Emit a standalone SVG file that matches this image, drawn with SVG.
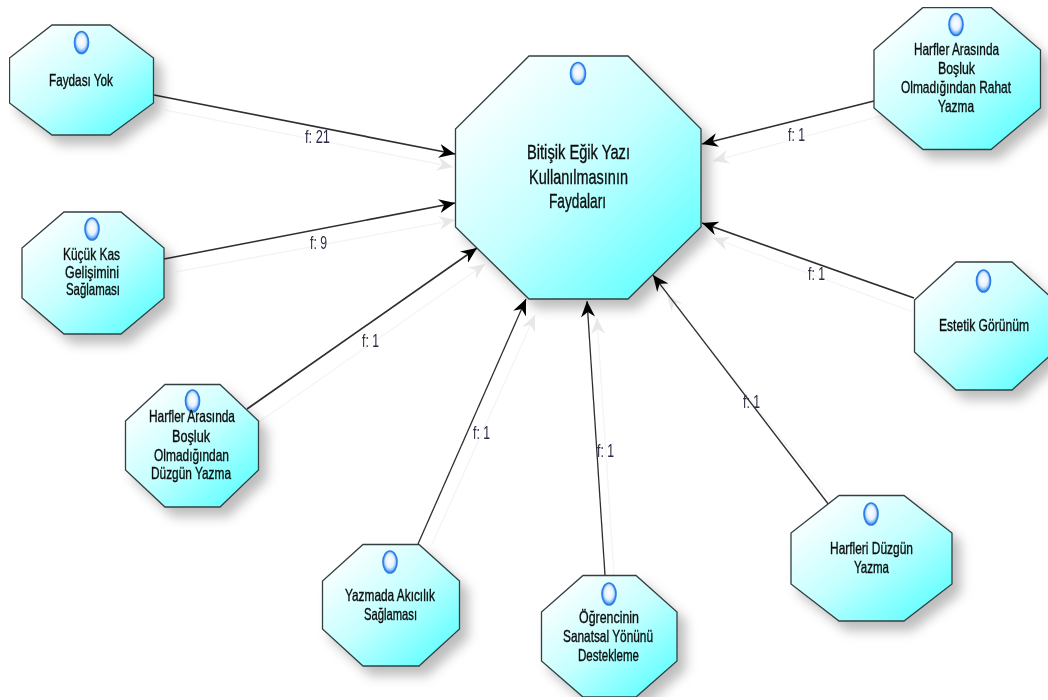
<svg xmlns="http://www.w3.org/2000/svg" width="1048" height="700" viewBox="0 0 1048 700">
<defs>
<linearGradient id="fill" x1="0.1" y1="0.08" x2="0.9" y2="0.92"><stop offset="0" stop-color="#ffffff"/><stop offset="0.5" stop-color="#c4ffff"/><stop offset="1" stop-color="#5effff"/></linearGradient>
<radialGradient id="dot" cx="0.5" cy="0.45" r="0.55"><stop offset="0" stop-color="#ffffff"/><stop offset="0.55" stop-color="#e4f1ff"/><stop offset="0.85" stop-color="#6aaef2"/><stop offset="1" stop-color="#1c68d8"/></radialGradient>
<filter id="shadow" x="-15%" y="-15%" width="135%" height="135%"><feDropShadow dx="8" dy="9" stdDeviation="6" flood-color="#000" flood-opacity="0.26"/></filter>
<filter id="soft" x="0" y="0" width="100%" height="100%"><feGaussianBlur stdDeviation="0.35"/></filter>
<marker id="arrow" viewBox="0 0 16 14" refX="16" refY="7" markerWidth="16" markerHeight="14" markerUnits="userSpaceOnUse" orient="auto"><path d="M16 7L0 0L5 7L0 14Z" fill="#000"/></marker>
<marker id="ghostarrow" viewBox="0 0 16 14" refX="16" refY="7" markerWidth="16" markerHeight="14" markerUnits="userSpaceOnUse" orient="auto"><path d="M16 7L0 0L5 7L0 14Z" fill="#e8e8e8"/></marker>
</defs>
<style>
.oct{fill:url(#fill);stroke:#334040;stroke-width:1.3;filter:url(#shadow)}
.dot{fill:url(#dot);stroke:#2f7fe6;stroke-width:1.7}
.t{font-family:"Liberation Sans",Arial,sans-serif;font-size:16.5px;fill:#0c0c0c;stroke:#0c0c0c;stroke-width:0.35px}
.big{font-size:21px}
.lab{font-family:"Liberation Sans",Arial,sans-serif;font-size:18px;fill:#2b2b45}
.line{stroke:#2e2e2e;fill:none;marker-end:url(#arrow)}
.heavy{stroke-width:1.7}
.thin{stroke-width:1.3}
.ghost{stroke:#f4f4f4;stroke-width:1.3;fill:none;marker-end:url(#ghostarrow)}
</style>
<rect width="1048" height="700" fill="#ffffff"/>
<g id="diagram" filter="url(#soft)">
<g id="connectors">
<line class="ghost" x1="165" y1="110" x2="453" y2="167"/>
<line class="ghost" x1="176" y1="272" x2="455" y2="220"/>
<line class="ghost" x1="259" y1="422" x2="485" y2="264"/>
<line class="ghost" x1="432" y1="544" x2="535" y2="315"/>
<line class="ghost" x1="614" y1="575" x2="597" y2="318"/>
<line class="ghost" x1="840" y1="512" x2="667" y2="295"/>
<line class="ghost" x1="913" y1="312" x2="713" y2="238"/>
<line class="ghost" x1="885" y1="115" x2="713" y2="161"/>
<line class="line heavy" x1="154" y1="95" x2="455" y2="154"/>
<line class="line heavy" x1="164" y1="259" x2="455" y2="203"/>
<line class="line heavy" x1="247" y1="409" x2="477" y2="248"/>
<line class="line thin" x1="418" y1="544" x2="526" y2="299"/>
<line class="line thin" x1="605" y1="575" x2="587" y2="301"/>
<line class="line thin" x1="829" y1="505" x2="653" y2="275"/>
<line class="line heavy" x1="914" y1="298" x2="702" y2="223"/>
<line class="line heavy" x1="874" y1="101" x2="702" y2="144"/>
<text class="lab" x="305" y="143" textLength="25" lengthAdjust="spacingAndGlyphs">f: 21</text>
<text class="lab" x="310" y="249" textLength="17" lengthAdjust="spacingAndGlyphs">f: 9</text>
<text class="lab" x="362" y="347" textLength="17" lengthAdjust="spacingAndGlyphs">f: 1</text>
<text class="lab" x="473" y="439" textLength="17" lengthAdjust="spacingAndGlyphs">f: 1</text>
<text class="lab" x="597" y="457" textLength="17" lengthAdjust="spacingAndGlyphs">f: 1</text>
<text class="lab" x="743" y="408" textLength="17" lengthAdjust="spacingAndGlyphs">f: 1</text>
<text class="lab" x="788" y="141" textLength="17" lengthAdjust="spacingAndGlyphs">f: 1</text>
<text class="lab" x="808" y="280" textLength="17" lengthAdjust="spacingAndGlyphs">f: 1</text>
</g>
<g id="node-faydalari">
<polygon class="oct" points="529,56 628,56 701,129 701,227 628,299 529,299 455.500,227 455.500,129"/>
<ellipse class="dot" cx="578" cy="73.500" rx="7.500" ry="11"/>
<text class="t big" x="527" y="159" textLength="103" lengthAdjust="spacingAndGlyphs">Bitişik Eğik Yazı</text>
<text class="t big" x="529" y="184" textLength="99" lengthAdjust="spacingAndGlyphs">Kullanılmasının</text>
<text class="t big" x="549" y="208" textLength="57" lengthAdjust="spacingAndGlyphs">Faydaları</text>
</g>
<g id="node-faydasi-yok">
<polygon class="oct" points="52,25 110,25 153.500,58 153.500,103 110,135 52,135 9.500,103 9.500,58"/>
<ellipse class="dot" cx="81.500" cy="42.500" rx="7" ry="11"/>
<text class="t" x="49" y="86" textLength="64" lengthAdjust="spacingAndGlyphs">Faydası Yok</text>
</g>
<g id="node-kucuk-kas">
<polygon class="oct" points="64,212 121,212 164,248 164,298 121,334 64,334 22,298 22,248"/>
<ellipse class="dot" cx="92" cy="229" rx="7" ry="11"/>
<text class="t" x="63" y="260" textLength="57" lengthAdjust="spacingAndGlyphs">Küçük Kas</text>
<text class="t" x="65" y="278" textLength="54" lengthAdjust="spacingAndGlyphs">Gelişimini</text>
<text class="t" x="66" y="295" textLength="54" lengthAdjust="spacingAndGlyphs">Sağlaması</text>
</g>
<g id="node-duzgun-yazma">
<polygon class="oct" points="165,384.500 220,384.500 258.500,421 258.500,470 220,507 165,507 125.500,470 125.500,421"/>
<ellipse class="dot" cx="192.500" cy="401" rx="7" ry="11"/>
<text class="t" x="149" y="422" textLength="86" lengthAdjust="spacingAndGlyphs">Harfler Arasında</text>
<text class="t" x="172" y="442" textLength="38" lengthAdjust="spacingAndGlyphs">Boşluk</text>
<text class="t" x="154" y="461" textLength="75" lengthAdjust="spacingAndGlyphs">Olmadığından</text>
<text class="t" x="151" y="479" textLength="80" lengthAdjust="spacingAndGlyphs">Düzgün Yazma</text>
</g>
<g id="node-akicilik">
<polygon class="oct" points="363,544.500 419,544.500 459.500,581 459.500,629 419,666 363,666 322.500,629 322.500,581"/>
<ellipse class="dot" cx="390" cy="562" rx="7" ry="11"/>
<text class="t" x="345" y="601" textLength="90" lengthAdjust="spacingAndGlyphs">Yazmada Akıcılık</text>
<text class="t" x="364" y="620" textLength="53" lengthAdjust="spacingAndGlyphs">Sağlaması</text>
</g>
<g id="node-sanatsal">
<polygon class="oct" points="583,575.500 636,575.500 677,612 677,661 636,697 583,697 541.500,661 541.500,612"/>
<ellipse class="dot" cx="609" cy="594" rx="7" ry="11"/>
<text class="t" x="579" y="623" textLength="60" lengthAdjust="spacingAndGlyphs">Öğrencinin</text>
<text class="t" x="563" y="642" textLength="90" lengthAdjust="spacingAndGlyphs">Sanatsal Yönünü</text>
<text class="t" x="578" y="661" textLength="61" lengthAdjust="spacingAndGlyphs">Destekleme</text>
</g>
<g id="node-harfleri-duzgun">
<polygon class="oct" points="839,495.500 904,495.500 952,533 952,584 904,621 839,621 791,584 791,533"/>
<ellipse class="dot" cx="871" cy="514" rx="7" ry="11"/>
<text class="t" x="830" y="554" textLength="83" lengthAdjust="spacingAndGlyphs">Harfleri Düzgün</text>
<text class="t" x="854" y="573" textLength="35" lengthAdjust="spacingAndGlyphs">Yazma</text>
</g>
<g id="node-estetik">
<polygon class="oct" points="956,262 1012,262 1054,300 1054,352 1012,390 956,390 914.500,352 914.500,300"/>
<ellipse class="dot" cx="983.500" cy="281" rx="7" ry="11"/>
<text class="t" transform="translate(939 331) scale(0.72 1)" textLength="125" lengthAdjust="spacingAndGlyphs">Estetik Görünüm</text>
</g>
<g id="node-rahat-yazma">
<polygon class="oct" points="923,7.500 991,7.500 1040.500,50 1040.500,108 991,149.500 923,149.500 874,108 874,50"/>
<ellipse class="dot" cx="956" cy="24.500" rx="7" ry="11"/>
<text class="t" x="914" y="55" textLength="85" lengthAdjust="spacingAndGlyphs">Harfler Arasında</text>
<text class="t" x="938" y="74" textLength="37" lengthAdjust="spacingAndGlyphs">Boşluk</text>
<text class="t" transform="translate(901 93) scale(0.74 1)" textLength="148.600" lengthAdjust="spacingAndGlyphs">Olmadığından Rahat</text>
<text class="t" x="938" y="112" textLength="36" lengthAdjust="spacingAndGlyphs">Yazma</text>
</g>
</g>
</svg>
